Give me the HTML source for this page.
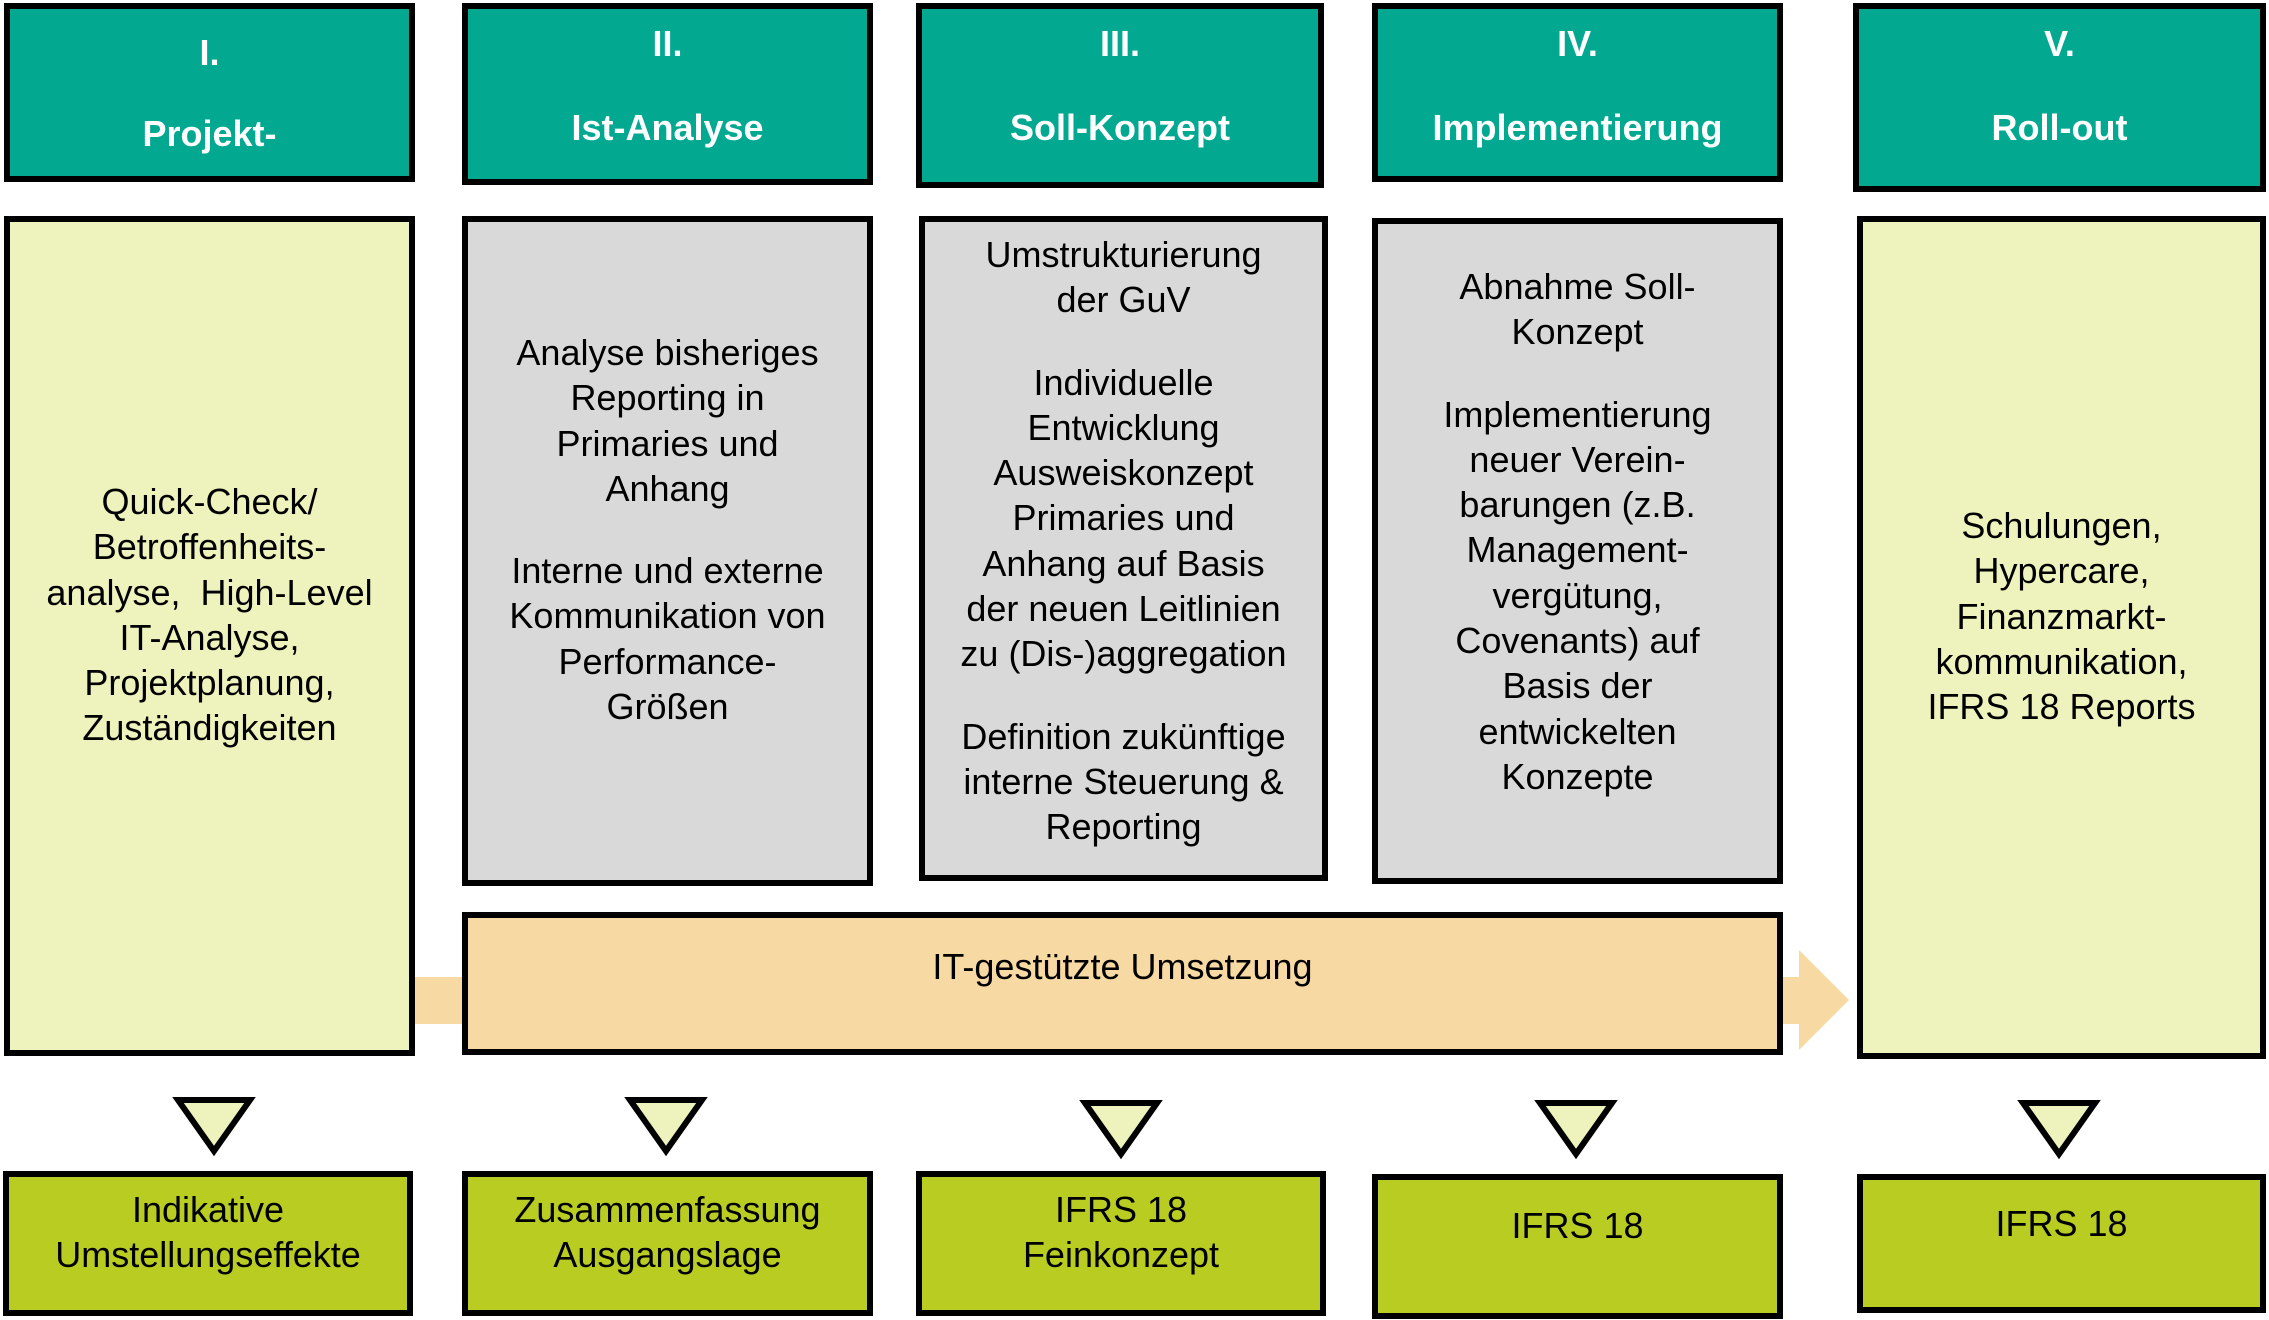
<!DOCTYPE html>
<html><head><meta charset="utf-8"><style>
html,body{margin:0;padding:0;}
body{width:2269px;height:1320px;position:relative;background:#fff;overflow:hidden;font-family:"Liberation Sans",Arial,sans-serif;}
.b{position:absolute;box-sizing:border-box;border:6px solid #000;}
.h{background:#02A990;}
.y{background:#EEF3BD;}
.g{background:#D9D9D9;}
.o{background:#F7D9A4;}
.l{background:#B9CC22;}
.t{position:absolute;text-align:center;font-size:36px;line-height:45.3px;color:#000;}
.t p{margin:0;}
.t p+p{margin-top:37px;}
.w{color:#fff;font-weight:bold;font-size:36px;}
</style></head><body>
<div class="b h" style="left:4px;top:3px;width:411px;height:179px"></div>
<div class="b h" style="left:462px;top:3px;width:411px;height:182px"></div>
<div class="b h" style="left:916px;top:3px;width:408px;height:185px"></div>
<div class="b h" style="left:1372px;top:3px;width:411px;height:179px"></div>
<div class="b h" style="left:1853px;top:3px;width:413px;height:189px"></div>
<div class="t w" style="left:4px;width:411px;top:30px">I.</div>
<div class="t w" style="left:4px;width:411px;top:111px">Projekt-</div>
<div class="t w" style="left:462px;width:411px;top:21px">II.</div>
<div class="t w" style="left:462px;width:411px;top:105px">Ist-Analyse</div>
<div class="t w" style="left:916px;width:408px;top:21px">III.</div>
<div class="t w" style="left:916px;width:408px;top:105px">Soll-Konzept</div>
<div class="t w" style="left:1372px;width:411px;top:21px">IV.</div>
<div class="t w" style="left:1372px;width:411px;top:105px">Implementierung</div>
<div class="t w" style="left:1853px;width:413px;top:21px">V.</div>
<div class="t w" style="left:1853px;width:413px;top:105px">Roll-out</div>

<div style="position:absolute;left:412px;top:977px;width:60px;height:47px;background:#F7D9A4"></div>
<div style="position:absolute;left:1775px;top:977px;width:26px;height:47px;background:#F7D9A4"></div>
<svg style="position:absolute;left:1799px;top:950px" width="52" height="100"><polygon points="0,0 50,50 0,100" fill="#F7D9A4"/></svg>

<div class="b y" style="left:4px;top:216px;width:411px;height:840px"></div>
<div class="b g" style="left:462px;top:216px;width:411px;height:670px"></div>
<div class="b g" style="left:919px;top:216px;width:409px;height:665px"></div>
<div class="b g" style="left:1372px;top:218px;width:411px;height:666px"></div>
<div class="b y" style="left:1857px;top:216px;width:409px;height:843px"></div>
<div class="b o" style="left:462px;top:912px;width:1321px;height:143px"></div>

<div class="t" style="left:4px;width:411px;top:479px">Quick-Check/<br>Betroffenheits-<br>analyse, &nbsp;High-Level<br>IT-Analyse,<br>Projektplanung,<br>Zuständigkeiten</div>
<div class="t" style="left:462px;width:411px;top:330px"><p>Analyse bisheriges<br>Reporting in<br>Primaries und<br>Anhang</p><p>Interne und externe<br>Kommunikation von<br>Performance-<br>Größen</p></div>
<div class="t" style="left:919px;width:409px;top:232px"><p>Umstrukturierung<br>der GuV</p><p>Individuelle<br>Entwicklung<br>Ausweiskonzept<br>Primaries und<br>Anhang auf Basis<br>der neuen Leitlinien<br>zu (Dis-)aggregation</p><p>Definition zukünftige<br>interne Steuerung &amp;<br>Reporting</p></div>
<div class="t" style="left:1372px;width:411px;top:264px"><p>Abnahme Soll-<br>Konzept</p><p>Implementierung<br>neuer Verein-<br>barungen (z.B.<br>Management-<br>vergütung,<br>Covenants) auf<br>Basis der<br>entwickelten<br>Konzepte</p></div>
<div class="t" style="left:1857px;width:409px;top:503px">Schulungen,<br>Hypercare,<br>Finanzmarkt-<br>kommunikation,<br>IFRS 18 Reports</div>
<div class="t" style="left:462px;width:1321px;top:944px">IT-gestützte Umsetzung</div>

<svg style="position:absolute;left:0;top:0" width="2269" height="1320">
<g fill="#EEF3BD" stroke="#000" stroke-width="6" stroke-linejoin="miter">
<polygon points="178,1100 250,1100 214,1151"/>
<polygon points="630,1100 702,1100 666,1151"/>
<polygon points="1085,1103 1157,1103 1121,1154"/>
<polygon points="1540,1103 1612,1103 1576,1154"/>
<polygon points="2023,1103 2095,1103 2059,1154"/>
</g></svg>

<div class="b l" style="left:3px;top:1171px;width:410px;height:145px"></div>
<div class="b l" style="left:462px;top:1171px;width:411px;height:145px"></div>
<div class="b l" style="left:916px;top:1171px;width:410px;height:145px"></div>
<div class="b l" style="left:1372px;top:1174px;width:411px;height:145px"></div>
<div class="b l" style="left:1857px;top:1174px;width:409px;height:139px"></div>
<div class="t" style="left:3px;width:410px;top:1187px">Indikative<br>Umstellungseffekte</div>
<div class="t" style="left:462px;width:411px;top:1187px">Zusammenfassung<br>Ausgangslage</div>
<div class="t" style="left:916px;width:410px;top:1187px">IFRS 18<br>Feinkonzept</div>
<div class="t" style="left:1372px;width:411px;top:1203px">IFRS 18</div>
<div class="t" style="left:1857px;width:409px;top:1201px">IFRS 18</div>
</body></html>
